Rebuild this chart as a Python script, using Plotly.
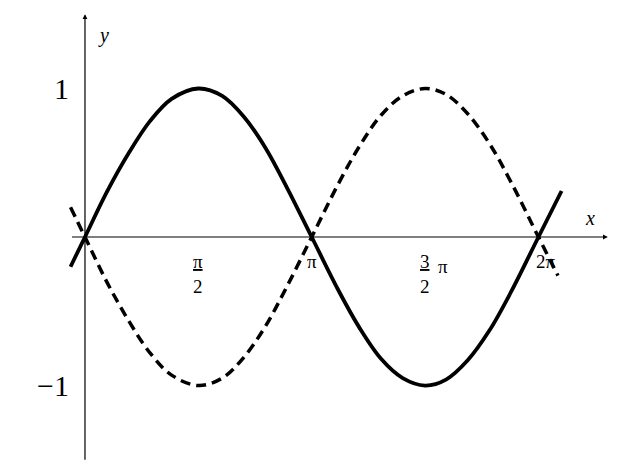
import plotly.graph_objects as go

# values
x_solid = [-0.2, 0, 0.3, 0.6, 0.9, 1.2, 1.57, 1.9, 2.2, 2.5, 2.8, 3.14,
           3.5, 3.8, 4.1, 4.4, 4.71, 5.0, 5.3, 5.6, 5.9, 6.28, 6.6]
y_solid = [-0.2, 0, 0.3, 0.56, 0.78, 0.93, 1.0, 0.95, 0.81, 0.6, 0.33, 0,
           -0.35, -0.61, -0.82, -0.95, -1.0, -0.96, -0.83, -0.63, -0.37, 0, 0.31]

x_dash = [-0.2, 0, 0.3, 0.6, 0.9, 1.2, 1.57, 1.9, 2.2, 2.5, 2.8, 3.14,
          3.5, 3.8, 4.1, 4.4, 4.71, 5.0, 5.3, 5.6, 5.9, 6.28, 6.55]
y_dash = [0.2, 0, -0.3, -0.56, -0.78, -0.93, -1.0, -0.95, -0.81, -0.6, -0.33, 0,
          0.35, 0.61, 0.82, 0.95, 1.0, 0.96, 0.83, 0.63, 0.37, 0, -0.26]

x_tick_vals = [1.5708, 3.1416, 4.7124, 6.2832]
x_tick_text = ["<u>π</u><br>2", "π", "<u>3</u><br>2", "2π"]
x_tick_shift = [0, 0, 0, 0.1]
y_tick_vals = [1, -1]
y_tick_text = ["1", "−1"]

serif = "Liberation Serif"

fig = go.Figure()
fig.add_trace(go.Scatter(x=x_dash, y=y_dash, mode="lines", line_shape="spline",
                         line=dict(color="black", width=3.5, dash="10px,6px")))
fig.add_trace(go.Scatter(x=x_solid, y=y_solid, mode="lines", line_shape="spline",
                         line=dict(color="black", width=3.8)))

# axes with arrows
fig.add_annotation(x=7.24, y=0, ax=-0.2, ay=0, xref="x", yref="y", axref="x", ayref="y",
                   text="", showarrow=True, arrowhead=2, arrowsize=0.8, arrowwidth=1.2,
                   arrowcolor="black")
fig.add_annotation(x=0, y=1.5, ax=0, ay=-1.51, xref="x", yref="y", axref="x", ayref="y",
                   text="", showarrow=True, arrowhead=2, arrowsize=0.8, arrowwidth=1.2,
                   arrowcolor="black")

# tick labels
for v, t, s in zip(x_tick_vals, x_tick_text, x_tick_shift):
    fig.add_annotation(x=v + s, y=-0.08, text=t, showarrow=False, yanchor="top",
                       font=dict(family=serif, size=19, color="black"))
fig.add_annotation(x=x_tick_vals[2] + 0.24, y=-0.2, text="π", showarrow=False,
                   font=dict(family=serif, size=19, color="black"))
for v, t in zip(y_tick_vals, y_tick_text):
    fig.add_annotation(x=-0.2, y=v, text=t, showarrow=False, xanchor="right",
                       font=dict(family=serif, size=30, color="black"))

fig.add_annotation(x=0.25, y=1.36, text="<i>y</i>", showarrow=False,
                   font=dict(family=serif, size=20, color="black"))
fig.add_annotation(x=7.0, y=0.13, text="<i>x</i>", showarrow=False,
                   font=dict(family=serif, size=20, color="black"))

fig.update_layout(
    width=620, height=468,
    margin=dict(l=0, r=0, t=0, b=0),
    paper_bgcolor="white", plot_bgcolor="white",
    showlegend=False,
    xaxis=dict(range=[-1.066, 7.52], visible=False),
    yaxis=dict(range=[-1.609, 1.542], visible=False),
)

fig.write_html("out.html")
